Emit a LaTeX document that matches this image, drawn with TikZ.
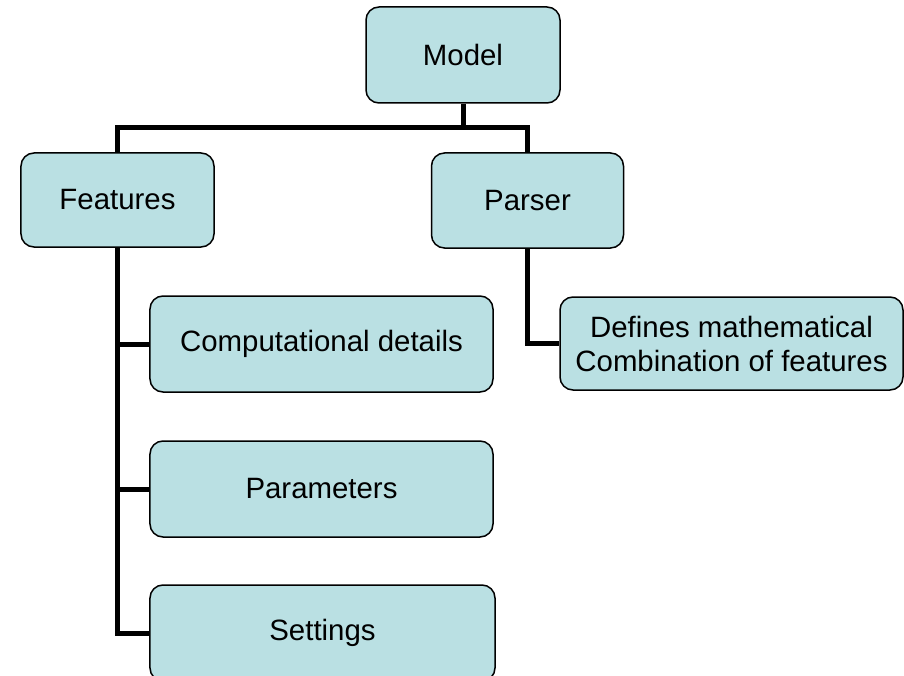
\documentclass[tikz,border=0pt]{standalone}
\usepackage{fontspec}
\setmainfont{Liberation Sans}
\usepackage{tikz}
\usetikzlibrary{positioning,calc}
\definecolor{boxfill}{RGB}{186,224,227}
\tikzstyle{treebox}=[draw=black,line width=1.5bp,fill=boxfill,rounded corners=13bp,align=center,inner sep=0pt,font=\fontsize{29.4bp}{34bp}\selectfont]
\tikzstyle{treeline}=[draw=black,line width=5bp]

\begin{document}
\begin{tikzpicture}[x=1bp,y=-1bp]
		\clip (0,0) rectangle (904,676);
		\useasboundingbox (0,0) rectangle (904,676);
		% top level
		\node [treebox,minimum width=194bp,minimum height=96bp] (model) at (463,55) {Model};
		\node [treebox,minimum width=193bp,minimum height=94bp] (features) at (117.5,200) {Features};
		\node [treebox,minimum width=192bp,minimum height=95bp] (parser) at (527.5,200.5) {Parser};
		
		% children of features
		\node [treebox,minimum width=343bp,minimum height=96bp] (comp) at (321.5,344) {Computational details};
		\node [treebox,minimum width=343bp,minimum height=96bp] (params) at (321.5,489) {Parameters};
		\node [treebox,minimum width=345bp,minimum height=96bp] (settings) at (322.5,633) {Settings};
		
		% child of parser
		\node [treebox,minimum width=343bp,minimum height=93bp] (defines) at (731.5,343.5) {Defines mathematical\\Combination of features};
		
		\coordinate (bar) at (463,128);
		\draw [treeline] (model.south) -- (bar) -| (features.north);
		\draw [treeline] (bar) -| (parser.north);
		\draw [treeline] (features.south) |- (settings.west);
		\draw [treeline] (features.south |- comp.west) -- (comp.west);
		\draw [treeline] (features.south |- params.west) -- (params.west);
		\draw [treeline] (parser.south) |- (defines.west);
\end{tikzpicture}
\end{document}
